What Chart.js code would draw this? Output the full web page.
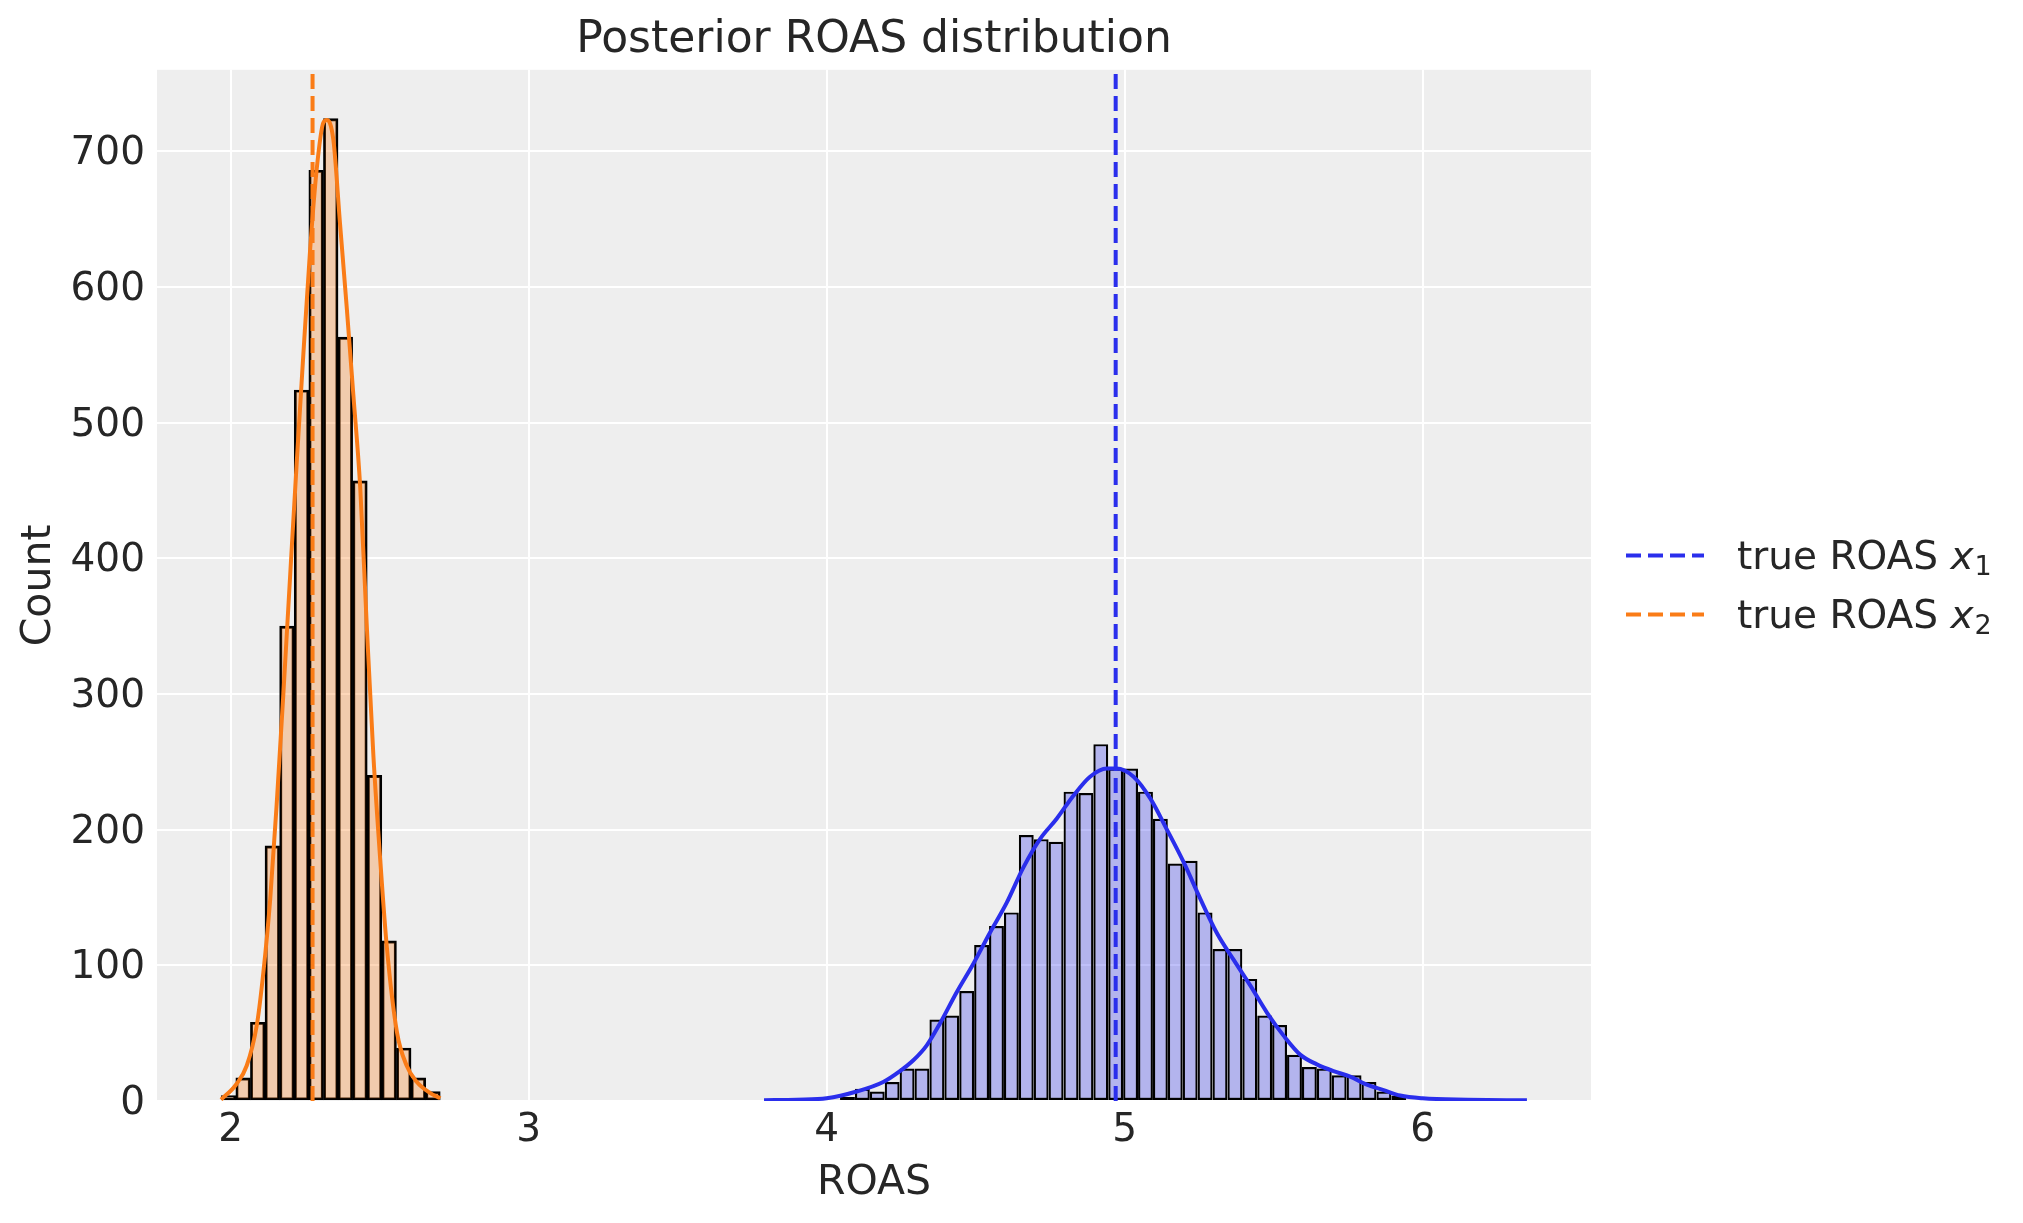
<!DOCTYPE html>
<html>
<head>
<meta charset="utf-8">
<script src="https://cdn.jsdelivr.net/npm/chart.js@4/dist/chart.umd.min.js"></script>
<style>
  html, body { margin: 0; padding: 0; background: #ffffff; }
  canvas { display: block; }
</style>
</head>
<body>
<canvas id="myChart" width="2023" height="1223"></canvas>
<script>
// histogram of x2 ROAS posterior (bin centres, counts)
const orangeBins = [1.993, 2.042, 2.091, 2.140, 2.189, 2.238, 2.287, 2.336, 2.385, 2.434, 2.483, 2.532, 2.581, 2.630, 2.679];
const orangeCounts = [4, 17, 58, 188, 350, 524, 686, 724, 563, 457, 240, 118, 39, 17, 7];

// histogram of x1 ROAS posterior
const blueBins = [3.82, 3.87, 3.92, 3.97, 4.02, 4.07, 4.12, 4.17, 4.22, 4.27, 4.32, 4.37, 4.42, 4.47, 4.52,
    4.57, 4.62, 4.67, 4.72, 4.77, 4.82, 4.87, 4.92, 4.97, 5.02, 5.07, 5.12, 5.17, 5.22, 5.27,
    5.32, 5.37, 5.42, 5.47, 5.52, 5.57, 5.62, 5.67, 5.72, 5.77, 5.82, 5.87, 5.92, 5.97];
const blueCounts = [1, 0, 0, 0, 1, 3, 9, 7, 14, 24, 24, 60, 63, 81, 115,
    129, 139, 196, 193, 191, 228, 227, 263, 245, 245, 228, 208, 175, 177, 139,
    112, 112, 90, 63, 56, 34, 25, 24, 19, 19, 14, 7, 4, 1];

// kde curves
const orangeKdeX = [1.968, 2.018, 2.054, 2.088, 2.110, 2.133, 2.155, 2.177, 2.200, 2.222, 2.244, 2.267, 2.289, 2.311, 2.323,
    2.345, 2.367, 2.390, 2.412, 2.435, 2.457, 2.479, 2.502, 2.524, 2.558, 2.591, 2.625, 2.669, 2.704];
const orangeKdeY = [1, 12, 26, 56, 95, 149, 220, 300, 388, 471, 550, 628, 687, 721, 723,
    708, 647, 584, 520, 452, 350, 255, 178, 114, 51, 26, 14, 6, 2];

const blueKdeX = [3.790, 3.900, 4.000, 4.101, 4.190, 4.246, 4.291, 4.336, 4.380, 4.436, 4.492, 4.548, 4.604, 4.660,
    4.716, 4.772, 4.828, 4.884, 4.940, 4.973, 5.030, 5.086, 5.142, 5.198, 5.254, 5.309, 5.366, 5.422,
    5.478, 5.534, 5.590, 5.645, 5.701, 5.757, 5.813, 5.869, 5.925, 6.000, 6.150, 6.350];
const blueKdeY = [0.5, 1, 2, 7, 14, 22, 30, 41, 57, 80, 101, 124, 146, 172,
    193, 208, 225, 239, 245, 245, 239, 223, 200, 176, 149, 124, 104, 85,
    65, 48, 34, 27, 22, 18, 12, 8, 4, 2, 1, 0.5];

// true values and legend
const trueRoas = [4.97, 2.275];
const legendNames = ["true ROAS ", "true ROAS "];
const legendSubs = ["1", "2"];
const lineColors = ["#2a2eec", "#fa7c17"];

const xTicks = [2, 3, 4, 5, 6];
const yTicks = [0, 100, 200, 300, 400, 500, 600, 700];

const textColor = "#262626";
Chart.defaults.font.family = "'DejaVu Sans', sans-serif";
Chart.defaults.color = textColor;

function toPoints(xs, ys) {
    return xs.map((x, i) => ({ x: x, y: ys[i] }));
}

const plotBackground = {
    id: "plotBackground",
    beforeDraw(chart) {
        const { ctx, chartArea } = chart;
        ctx.save();
        ctx.fillStyle = "#eeeeee";
        ctx.fillRect(chartArea.left, chartArea.top, chartArea.right - chartArea.left, chartArea.bottom - chartArea.top);
        ctx.restore();
    }
};

const trueLines = {
    id: "trueLines",
    afterDatasetsDraw(chart) {
        const { ctx, chartArea, scales } = chart;
        ctx.save();
        ctx.lineWidth = 4;
        ctx.setLineDash([15, 7]);
        trueRoas.forEach((v, i) => {
            const x = scales.x.getPixelForValue(v);
            ctx.strokeStyle = lineColors[i];
            ctx.beginPath();
            ctx.moveTo(x, chartArea.bottom);
            ctx.lineTo(x, chartArea.top);
            ctx.stroke();
        });
        ctx.restore();
    }
};

// legend outside the axes, with italic x and a subscript
const sideLegend = {
    id: "sideLegend",
    afterDraw(chart) {
        const { ctx, chartArea } = chart;
        const mid = (chartArea.top + chartArea.bottom) / 2;
        const x0 = chartArea.right + 35;
        ctx.save();
        legendNames.forEach((name, i) => {
            const y = mid - 30 + i * 59;
            ctx.strokeStyle = lineColors[i];
            ctx.lineWidth = 4;
            ctx.setLineDash([15, 7]);
            ctx.beginPath();
            ctx.moveTo(x0, y);
            ctx.lineTo(x0 + 78, y);
            ctx.stroke();
            ctx.setLineDash([]);

            ctx.fillStyle = textColor;
            ctx.textBaseline = "alphabetic";
            ctx.textAlign = "left";
            let tx = x0 + 111;
            const base = y + 14;
            ctx.font = "39px 'DejaVu Sans'";
            ctx.fillText(name, tx, base);
            tx += ctx.measureText(name).width;
            ctx.font = "italic 39px 'DejaVu Sans'";
            ctx.fillText("x", tx, base);
            tx += ctx.measureText("x").width + 1;
            ctx.font = "27px 'DejaVu Sans'";
            ctx.fillText(legendSubs[i], tx, base + 6);
        });
        ctx.restore();
    }
};

const ctx = document.getElementById("myChart").getContext("2d");
const myChart = new Chart(ctx, {
    type: "bar",
    data: {
        datasets: [
            {
                type: "line",
                label: "x1 kde",
                data: toPoints(blueKdeX, blueKdeY),
                borderColor: lineColors[0],
                borderWidth: 4,
                pointRadius: 0,
                cubicInterpolationMode: "monotone",
                fill: false,
                order: 0
            },
            {
                type: "line",
                label: "x2 kde",
                data: toPoints(orangeKdeX, orangeKdeY),
                borderColor: lineColors[1],
                borderWidth: 4,
                pointRadius: 0,
                cubicInterpolationMode: "monotone",
                fill: false,
                order: 0
            },
            {
                type: "bar",
                label: "x1",
                data: toPoints(blueBins, blueCounts),
                backgroundColor: "rgba(42, 46, 236, 0.3)",
                borderColor: "#000000",
                borderWidth: 2.2,
                borderSkipped: false,
                barPercentage: 1.019,
                categoryPercentage: 1,
                grouped: false,
                order: 1
            },
            {
                type: "bar",
                label: "x2",
                data: toPoints(orangeBins, orangeCounts),
                backgroundColor: "rgba(250, 124, 23, 0.3)",
                borderColor: "#000000",
                borderWidth: 2.2,
                borderSkipped: false,
                barPercentage: 1,
                categoryPercentage: 1,
                grouped: false,
                order: 1
            }
        ]
    },
    options: {
        responsive: false,
        animation: false,
        devicePixelRatio: 1,
        layout: { padding: { left: 0, right: 432, top: 0, bottom: 0 } },
        plugins: {
            legend: { display: false },
            tooltip: { enabled: false },
            title: {
                display: true,
                text: "Posterior ROAS distribution",
                fullSize: false,
                font: { size: 44, weight: "normal" },
                color: textColor,
                padding: { top: 14, bottom: 3 }
            }
        },
        scales: {
            x: {
                type: "linear",
                min: 1.753,
                max: 6.565,
                offset: false,
                afterBuildTicks: (s) => { s.ticks = xTicks.map(v => ({ value: v })); },
                afterFit: (s) => { s.height = 122; },
                grid: { color: "#ffffff", lineWidth: 2, drawTicks: false, offset: false },
                border: { display: false },
                ticks: { font: { size: 39 }, color: textColor, padding: 6, maxRotation: 0 },
                title: { display: true, text: "ROAS", font: { size: 41 }, color: textColor, padding: { top: 0, bottom: 15 } }
            },
            y: {
                type: "linear",
                min: 0,
                max: 760,
                afterBuildTicks: (s) => { s.ticks = yTicks.map(v => ({ value: v })); },
                afterFit: (s) => { s.width = 157; },
                grid: { color: "#ffffff", lineWidth: 2, drawTicks: false },
                border: { display: false },
                ticks: { font: { size: 39 }, color: textColor, padding: 12, labelOffset: 3 },
                title: { display: true, text: "Count", font: { size: 41 }, color: textColor, padding: { top: 15, bottom: 0 } }
            }
        }
    },
    plugins: [plotBackground, trueLines, sideLegend]
});
</script>
</body>
</html>
